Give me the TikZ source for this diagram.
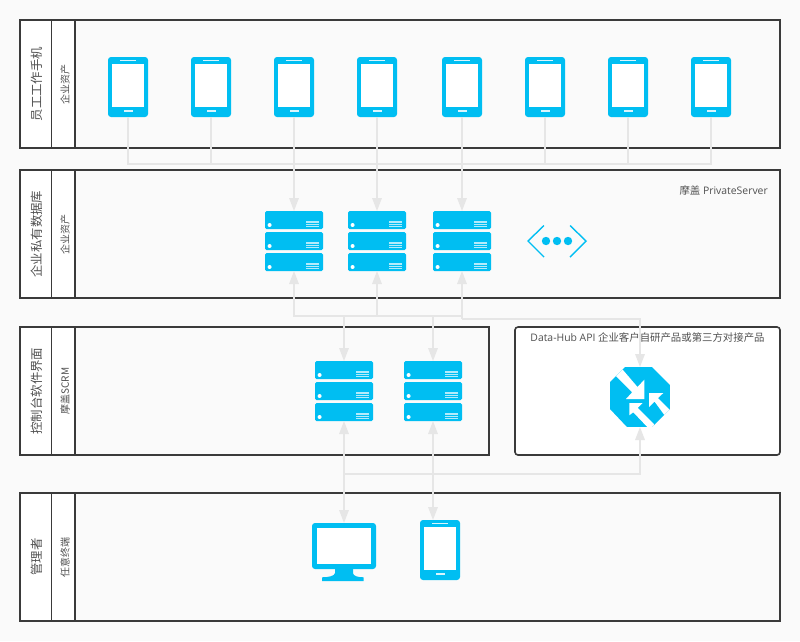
\documentclass[tikz,border=0pt]{standalone}
\usepackage{fontspec}
\setmainfont{Open Sans}
\newfontfamily\cjk{Noto Sans CJK SC}
\usetikzlibrary{arrows.meta,calc}
\definecolor{bgc}{HTML}{FAFAFA}
\definecolor{ink}{HTML}{3A3A3A}
\definecolor{txt}{HTML}{505050}
\definecolor{blu}{HTML}{00BEF2}
\definecolor{lnk}{HTML}{E6E6E6}
\tikzset{
  x=1pt,y=-1pt,
  lane/.style={draw=ink,line width=1.6pt,fill=bgc,inner sep=0,minimum height=128pt,anchor=north west,xshift=-.8pt,yshift=.8pt},
  laneh/.style={draw=ink,line width=1.4pt,fill=white,inner sep=0,minimum height=128pt,anchor=north west,xshift=-.8pt,yshift=.8pt},
  title/.style={rotate=90,text=txt,font=\fontsize{12.4}{14}\selectfont\cjk,inner sep=0},
  subtitle/.style={rotate=90,text=txt,font=\fontsize{10}{12}\selectfont\cjk,inner sep=0},
  caption/.style={text=txt,font=\fontsize{10.4}{12}\selectfont,inner sep=0},
  link/.style={draw=lnk,line width=1.6pt},
  arr/.style={link,-{Triangle[width=9.5pt,length=13pt]}},
  rarr/.style={link,{Triangle[width=9.5pt,length=13pt]}-},
  darr/.style={link,{Triangle[width=9.5pt,length=13pt]}-{Triangle[width=9.5pt,length=13pt]}},
  phonebody/.style={fill=blu,rounded corners=3pt,minimum width=40pt,minimum height=60pt,inner sep=0,outer sep=0,anchor=north west},
  rackbody/.style={minimum width=58pt,minimum height=60pt,inner sep=0,outer sep=0,anchor=north west},
  slab/.style={fill=blu,rounded corners=1.5pt},
}
\newcommand{\phoneicon}[3]{%
  \node[phonebody] (#1) at (#2,#3) {};
  \fill[white] (#2+4,#3+6.5) rectangle (#2+36,#3+49.5);
  \fill[white,opacity=.85] (#2+12,#3+2.6) rectangle (#2+28,#3+4.2);
  \fill[white,opacity=.85] (#2+15.5,#3+53.2) rectangle (#2+24.5,#3+55);
}
\newcommand{\rackslab}[2]{%
  \fill[slab] (#1,#2) rectangle (#1+58,#2+18);
  \fill[white] (#1+4.6,#2+14) circle (2pt);
  \foreach \k in {10,11.8,13.6,15.4}{\draw[white,opacity=.7,line width=.7pt] (#1+41,#2+\k) -- (#1+54,#2+\k);}
}
\newcommand{\rackicon}[3]{%
  \node[rackbody] (#1) at (#2,#3) {};
  \rackslab{#2}{#3}
  \rackslab{#2}{#3+21}
  \rackslab{#2}{#3+42}
}
\begin{document}
\begin{tikzpicture}
\useasboundingbox (0,0) rectangle (800,641);
\fill[bgc] (0,0) rectangle (800,641);
% lanes
\node[lane,minimum width=760pt] (L1) at (20,20) {};
\node[laneh,minimum width=55pt] (L1a) at (20,20) {};
\node[laneh,minimum width=23.5pt] (L1b) at (51.5,20) {};
\node[lane,minimum width=760pt] (L2) at (20,170) {};
\node[laneh,minimum width=55pt] (L2a) at (20,170) {};
\node[laneh,minimum width=23.5pt] (L2b) at (51.5,170) {};
\node[lane,minimum width=469pt] (L3) at (20,327) {};
\node[laneh,minimum width=55pt] (L3a) at (20,327) {};
\node[laneh,minimum width=23.5pt] (L3b) at (51.5,327) {};
\node[lane,minimum width=760pt] (L4) at (20,493) {};
\node[laneh,minimum width=55pt] (L4a) at (20,493) {};
\node[laneh,minimum width=23.5pt] (L4b) at (51.5,493) {};
\node[draw=ink,line width=1.6pt,fill=white,rounded corners=3pt,minimum width=265pt,minimum height=128pt,inner sep=0,anchor=north west,xshift=-.8pt,yshift=.8pt] (hub) at (515,327) {};
% labels
\node[title] (t1) at (37,84) {员工工作手机};
\node[title] (t2) at (37,234) {企业私有数据库};
\node[title] (t3) at (37,391) {控制台软件界面};
\node[title] (t4) at (37,557) {管理者};
\node[subtitle] (s1) at (65,84) {企业资产};
\node[subtitle] (s2) at (65,234) {企业资产};
\node[subtitle] (s3) at (65,391) {摩盖SCRM};
\node[subtitle] (s4) at (65,557) {任意终端};
\node[caption,anchor=east] (cap1) at (768,191) {{\cjk 摩盖} PrivateServer};
\node[caption] (cap2) at (647.5,338) {Data-Hub API {\cjk 企业客户自研产品或第三方对接产品}};
% icons
\phoneicon{p1}{108}{57}
\phoneicon{p2}{191}{57}
\phoneicon{p3}{274}{57}
\phoneicon{p4}{357}{57}
\phoneicon{p5}{442}{57}
\phoneicon{p6}{525}{57}
\phoneicon{p7}{608}{57}
\phoneicon{p8}{691}{57}
\rackicon{r1}{265}{211}
\rackicon{r2}{348}{211}
\rackicon{r3}{433}{211}
\rackicon{r4}{315}{361}
\rackicon{r5}{404}{361}
\phoneicon{p9}{420}{520}
% network glyph
\draw[blu,line width=1.4pt] (544,225.5) -- (528,241) -- (544,257);
\draw[blu,line width=1.4pt] (570,225.5) -- (586,241) -- (570,257);
\fill[blu] (546,241) circle (4.2pt) (557,241) circle (4.2pt) (568,241) circle (4.2pt);
% router
\node[minimum width=60pt,minimum height=60pt,inner sep=0,outer sep=0,anchor=north west] (gw) at (610,367) {};
\begin{scope}
\clip (625,367) -- (652,367) -- (670,385) -- (670,409) -- (652,427) -- (627,427) -- (610,409) -- (610,382) -- cycle;
\fill[blu] (610,367) rectangle (670,427);
\fill[white] (623,370) -- (637.5,387) -- (644.3,379.7) -- (644.3,399) -- (626,399) -- (632.2,392.2) -- (615,375) -- (620,368) -- cycle;
\fill[white] (629.3,403) -- (642.7,403) -- (637.8,407.8) -- (660,430) -- (653,433) -- (633.3,412.3) -- (629.3,415.3) -- cycle;
\fill[white] (649,393) -- (663.3,393) -- (658,398) -- (675,415) -- (668,420) -- (654.5,401.5) -- (649,407) -- cycle;
\end{scope}
% monitor
\node[fill=blu,rounded corners=3pt,minimum width=64pt,minimum height=46pt,inner sep=0,outer sep=0,anchor=north west] (m1) at (312,523) {};
\fill[white] (317,527.6) rectangle (371,564.3);
\fill[blu] (335,569) -- (353,569) -- (353,573) .. controls (353,576) and (358,577.3) .. (363.5,577.3) -- (363.5,581) -- (322,581) -- (322,577.3) .. controls (328,577.3) and (335,576) .. (335,573) -- cycle;
% connectors
\coordinate (busa) at (128,164);
\coordinate (busb) at (711,164);
\coordinate (up1) at (294,316);
\coordinate (up3) at (462,316);
\coordinate (branch) at (462,319);
\coordinate (low1) at (344,474);
\draw[link] (p1.south) -- (busa) -- (busb) -- (p8.south);
\draw[link] (p2.south) -- (p2.south |- busa);
\draw[link] (p6.south) -- (p6.south |- busa);
\draw[link] (p7.south) -- (p7.south |- busa);
\draw[arr] (p3.south) -- (r1.north);
\draw[arr] (p4.south) -- (r2.north);
\draw[arr] (p5.south) -- (r3.north);
\draw[rarr] (r1.south) -- (up1) -- (up3);
\draw[rarr] (r2.south) -- (r2.south |- up1);
\draw[rarr] (r3.south) -- (up3) -- (branch);
\draw[arr] (branch) -| (gw.north);
\draw[arr] (r4.north |- up1) -- (r4.north);
\draw[arr] (r5.north |- up1) -- (r5.north);
\draw[darr] (r4.south) -- (m1.north);
\draw[darr] (r5.south) -- (r5.south |- p9.north);
\draw[arr] (low1) -| (gw.south);
\end{tikzpicture}
\end{document}
